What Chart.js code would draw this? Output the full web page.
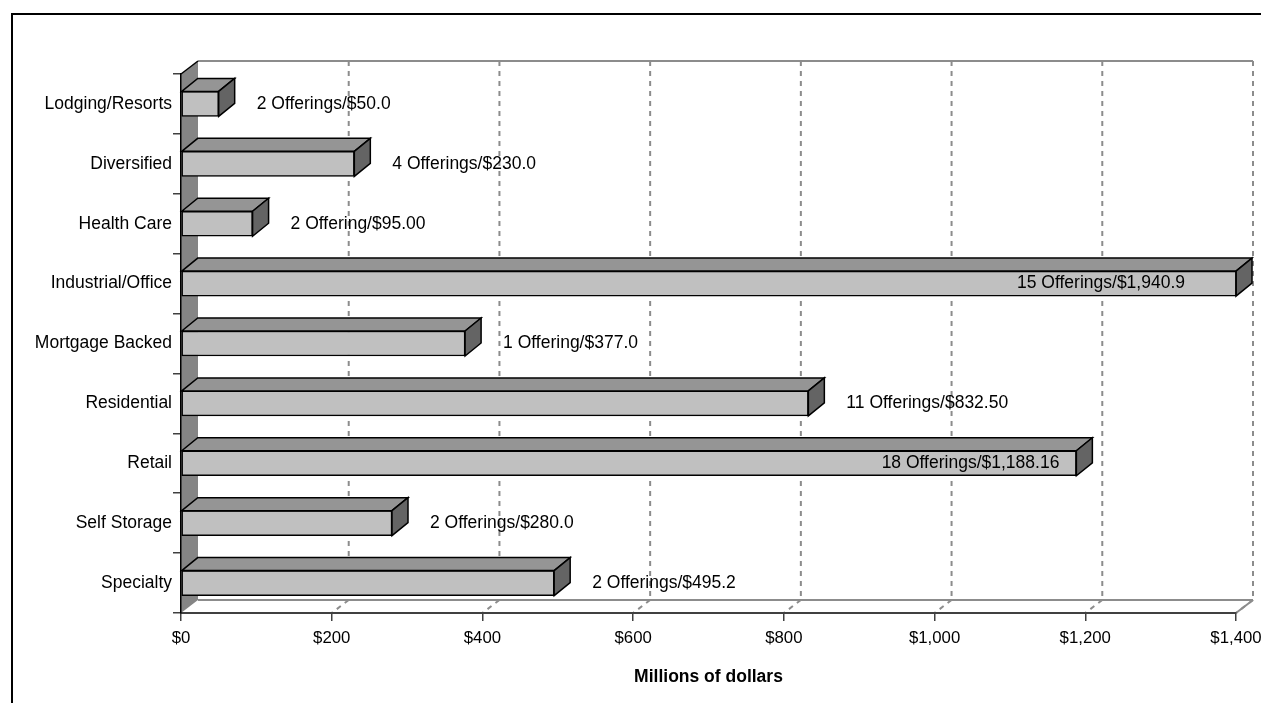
<!DOCTYPE html>
<html>
<head>
<meta charset="utf-8">
<title>Offerings by property sector</title>
<script src="https://cdn.jsdelivr.net/npm/chart.js@4.4.1/dist/chart.umd.min.js"></script>
<style>
  html, body { margin: 0; padding: 0; background: #ffffff; overflow: hidden; }
  #wrap { position: relative; width: 1261px; height: 703px; }
</style>
</head>
<body>
<div id="wrap"><canvas id="chart"></canvas></div>
<script>
// Property sectors, top to bottom
const categories = [
  'Lodging/Resorts', 'Diversified', 'Health Care', 'Industrial/Office',
  'Mortgage Backed', 'Residential', 'Retail', 'Self Storage', 'Specialty'
];

// Amount raised per sector, millions of dollars
const amounts = [50.0, 230.0, 95.0, 1940.9, 377.0, 832.5, 1188.16, 280.0, 495.2];

// Text shown next to each bar
const barLabels = [
  '2 Offerings/$50.0', '4 Offerings/$230.0', '2 Offering/$95.00',
  '15 Offerings/$1,940.9', '1 Offering/$377.0', '11 Offerings/$832.50',
  '18 Offerings/$1,188.16', '2 Offerings/$280.0', '2 Offerings/$495.2'
];

// Value axis range and tick step
const axisMin = 0;
const axisMax = 1400;
const axisStep = 200;
const axisTitle = 'Millions of dollars';

const FONT = "'Liberation Sans', Arial, Helvetica, sans-serif";
const FONT_SIZE = 17.5;
const TICK_FONT_SIZE = 16.8;
Chart.defaults.font.family = FONT;
Chart.defaults.font.size = FONT_SIZE;
Chart.defaults.color = '#000000';

// Depth of the 3-D box (walls) and of the bars
const WALL_DX = 17, WALL_DY = 13;
const BAR_DX = 16, BAR_DY = 13;

function seg(ctx, x1, y1, x2, y2) {
  ctx.beginPath(); ctx.moveTo(x1, y1); ctx.lineTo(x2, y2); ctx.stroke();
}

const depth3d = {
  id: 'depth3d',
  beforeDraw(chart) {
    const { ctx, chartArea: a, scales: { x } } = chart;
    ctx.save();
    // outer frame
    ctx.strokeStyle = '#000000';
    ctx.lineWidth = 2;
    ctx.strokeRect(12, 14, 3000, 3000);

    // left side wall
    ctx.fillStyle = '#858585';
    ctx.beginPath();
    ctx.moveTo(a.left, a.top);
    ctx.lineTo(a.left + WALL_DX, a.top - WALL_DY);
    ctx.lineTo(a.left + WALL_DX, a.bottom - WALL_DY);
    ctx.lineTo(a.left, a.bottom);
    ctx.closePath();
    ctx.fill();

    // back wall and floor outline
    ctx.strokeStyle = '#8c8c8c';
    ctx.lineWidth = 2;
    seg(ctx, a.left + WALL_DX, a.top - WALL_DY, a.right + WALL_DX, a.top - WALL_DY);
    seg(ctx, a.left + WALL_DX, a.bottom - WALL_DY, a.right + WALL_DX, a.bottom - WALL_DY);
    seg(ctx, a.right, a.bottom, a.right + WALL_DX, a.bottom - WALL_DY);

    // dashed gridlines up the back wall and across the floor
    ctx.setLineDash([5, 5]);
    x.ticks.forEach(t => {
      if (t.value === axisMin) return;
      const px = x.getPixelForValue(t.value);
      seg(ctx, px + WALL_DX, a.top - WALL_DY, px + WALL_DX, a.bottom - WALL_DY);
      seg(ctx, px + WALL_DX, a.bottom - WALL_DY, px, a.bottom);
    });
    ctx.setLineDash([]);

    // top edge of the side wall
    ctx.strokeStyle = '#000000';
    ctx.lineWidth = 1.5;
    seg(ctx, a.left, a.top, a.left + WALL_DX, a.top - WALL_DY);
    ctx.restore();
  },
  afterDatasetsDraw(chart) {
    const { ctx, chartArea: a } = chart;
    const meta = chart.getDatasetMeta(0);
    ctx.save();
    ctx.lineWidth = 1.5;
    ctx.strokeStyle = '#000000';
    ctx.lineJoin = 'miter';
    meta.data.forEach((bar, i) => {
      const p = bar.getProps(['x', 'y', 'base', 'height'], true);
      const clipped = p.x > a.right;
      const xEnd = Math.min(p.x, a.right);
      const top = p.y - p.height / 2;
      const bottom = p.y + p.height / 2;
      const left = p.base;

      // top face
      ctx.fillStyle = '#959595';
      ctx.beginPath();
      ctx.moveTo(left, top);
      ctx.lineTo(left + BAR_DX, top - BAR_DY);
      ctx.lineTo(xEnd + BAR_DX, top - BAR_DY);
      ctx.lineTo(xEnd, top);
      ctx.closePath();
      ctx.fill(); ctx.stroke();

      // end face
      ctx.fillStyle = '#646464';
      ctx.beginPath();
      ctx.moveTo(xEnd, top);
      ctx.lineTo(xEnd + BAR_DX, top - BAR_DY);
      ctx.lineTo(xEnd + BAR_DX, bottom - BAR_DY);
      ctx.lineTo(xEnd, bottom);
      ctx.closePath();
      ctx.fill(); ctx.stroke();

      if (clipped) seg(ctx, xEnd, top, xEnd, bottom);

      // value label
      ctx.font = FONT_SIZE + 'px ' + FONT;
      ctx.fillStyle = '#000000';
      ctx.textBaseline = 'middle';
      const text = barLabels[i];
      const w = ctx.measureText(text).width;
      const outsideX = xEnd + 38;
      if (clipped || outsideX + w > a.right) {
        ctx.textAlign = 'right';
        ctx.fillText(text, xEnd - (clipped ? 51 : 17), p.y);
      } else {
        ctx.textAlign = 'left';
        ctx.fillText(text, outsideX, p.y);
      }
    });
    ctx.restore();
  }
};

new Chart(document.getElementById('chart'), {
  type: 'bar',
  data: {
    labels: categories,
    datasets: [{
      data: amounts,
      backgroundColor: '#c0c0c0',
      borderColor: '#000000',
      borderWidth: 1.5,
      borderSkipped: false,
      barThickness: 25,
      clip: { left: false, top: false, bottom: false, right: 0 }
    }]
  },
  options: {
    indexAxis: 'y',
    responsive: true,
    maintainAspectRatio: false,
    animation: false,
    events: [],
    layout: { padding: { left: 0, right: 25, top: 74, bottom: 0 } },
    plugins: {
      legend: { display: false },
      tooltip: { enabled: false },
      title: { display: false }
    },
    scales: {
      x: {
        type: 'linear',
        position: 'bottom',
        min: axisMin,
        max: axisMax,
        afterFit(scale) {
          scale.height = 90;
          scale.paddingLeft = 0;
          scale.paddingRight = 0;
        },
        ticks: {
          stepSize: axisStep,
          padding: 7,
          color: '#000000',
          font: { size: TICK_FONT_SIZE },
          maxRotation: 0,
          callback: v => '$' + Number(v).toLocaleString('en-US')
        },
        grid: {
          drawOnChartArea: false,
          drawTicks: true,
          tickLength: 8,
          color: '#404040',
          lineWidth: 1.5
        },
        border: { display: true, color: '#404040', width: 2 },
        title: {
          display: true,
          text: axisTitle,
          color: '#000000',
          font: { size: FONT_SIZE, weight: 'bold' },
          padding: { top: 0, bottom: 15 }
        }
      },
      y: {
        type: 'category',
        afterFit(scale) {
          scale.width = 181;
          scale.paddingTop = 0;
          scale.paddingBottom = 0;
        },
        ticks: { padding: 1, color: '#000000', font: { size: FONT_SIZE } },
        grid: {
          offset: true,
          drawOnChartArea: false,
          drawTicks: true,
          tickLength: 8,
          color: '#404040',
          lineWidth: 1.5
        },
        border: { display: true, color: '#000000', width: 1.5 }
      }
    }
  },
  plugins: [depth3d]
});
</script>
</body>
</html>
